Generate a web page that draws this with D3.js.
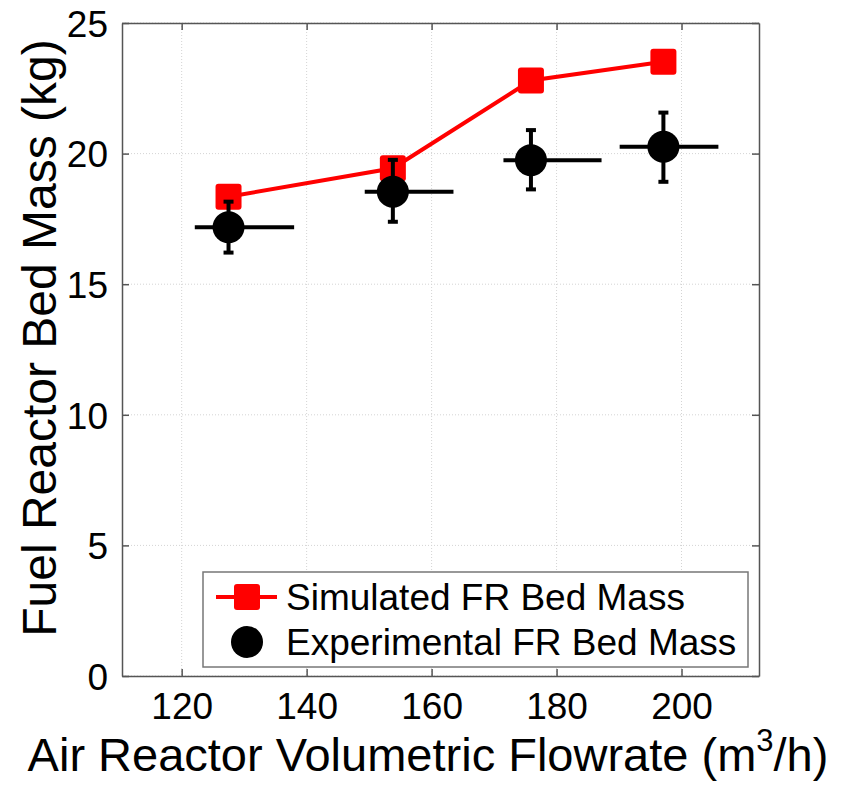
<!DOCTYPE html>
<html>
<head>
    <meta charset="utf-8">
    <title>Fuel Reactor Bed Mass</title>
    <style type="text/css">
    body { margin: 0; background: #fff; }
    text { font-family: "Liberation Sans", Arial, sans-serif; }
    </style>
</head>
<body>
  <script src="https://cdn.jsdelivr.net/npm/d3@7"></script>
  <script>

    // data
    var flowrate     = [127.5, 153.8, 175.9, 197.1];   // m3/h
    var simMass      = [18.35, 19.44, 22.8, 23.52];    // kg
    var expMass      = [17.18, 18.54, 19.75, 20.26];   // kg
    var expMassLow   = [16.21, 17.39, 18.63, 18.92];
    var expMassHigh  = [18.16, 19.76, 20.9, 21.57];
    var flowLow      = [122.1, 149.3, 171.5, 190.1];
    var flowHigh     = [138.0, 163.5, 187.2, 205.9];
    var xTicks = [120, 140, 160, 180, 200];
    var yTicks = [0, 5, 10, 15, 20, 25];
    var legendLabels = ["Simulated FR Bed Mass", "Experimental FR Bed Mass"];

    var W = 846, H = 785;
    var margin = {top: 23, right: 87, bottom: 109, left: 122},
        width  = W - margin.left - margin.right,
        height = H - margin.top - margin.bottom;

    var svg = d3.select("body")
      .append("svg")
      .attr("width", W)
      .attr("height", H);

    var chart = svg.append("g")
      .attr("transform", "translate(" + margin.left + "," + margin.top + ")");

    //scales
    var xScale = d3.scaleLinear().domain([110.45, 212.4]).range([0, width]);
    var yScale = d3.scaleLinear().domain([0, 25]).range([height, 0]);

    //dotted grid
    chart.append("g")
      .selectAll("line")
      .data(xTicks)
      .enter()
      .append("line")
      .attr("x1", function(d){ return xScale(d); })
      .attr("x2", function(d){ return xScale(d); })
      .attr("y1", 0)
      .attr("y2", height)
      .attr("stroke", "#d4d4d4")
      .attr("stroke-width", 1)
      .attr("stroke-dasharray", "1,2");

    chart.append("g")
      .selectAll("line")
      .data(yTicks)
      .enter()
      .append("line")
      .attr("x1", 0)
      .attr("x2", width)
      .attr("y1", function(d){ return yScale(d); })
      .attr("y2", function(d){ return yScale(d); })
      .attr("stroke", "#d4d4d4")
      .attr("stroke-width", 1)
      .attr("stroke-dasharray", "1,2");

    //axes, ticks pointing inwards on all four sides
    var axisColor = "#555";
    var bottomAxis = chart.append("g")
      .attr("transform", "translate(0," + height + ")")
      .call(d3.axisBottom(xScale).tickValues(xTicks).tickSizeInner(-7).tickSizeOuter(0).tickPadding(16));
    var topAxis = chart.append("g")
      .call(d3.axisTop(xScale).tickValues(xTicks).tickSizeInner(-7).tickSizeOuter(0).tickFormat(""));
    var leftAxis = chart.append("g")
      .call(d3.axisLeft(yScale).tickValues(yTicks).tickSizeInner(-7).tickSizeOuter(0).tickPadding(14));
    var rightAxis = chart.append("g")
      .attr("transform", "translate(" + width + ",0)")
      .call(d3.axisRight(yScale).tickValues(yTicks).tickSizeInner(-7).tickSizeOuter(0).tickFormat(""));

    [bottomAxis, topAxis, leftAxis, rightAxis].forEach(function(a){
      a.select(".domain").attr("stroke", axisColor).attr("stroke-width", 1.5);
      a.selectAll(".tick line").attr("stroke", axisColor).attr("stroke-width", 1.5);
      a.selectAll("text")
        .attr("fill", "#000")
        .style("font-family", "\"Liberation Sans\", Arial, sans-serif")
        .style("font-size", "37px");
    });
    bottomAxis.selectAll("text").attr("dy", "0.72em");
    leftAxis.selectAll("text").attr("dy", "0.36em");

    //simulated line + squares
    var line = d3.line()
      .x(function(d){ return xScale(d[0]); })
      .y(function(d){ return yScale(d[1]); });

    var simData = flowrate.map(function(f, i){ return [f, simMass[i]]; });

    chart.append("path")
      .datum(simData)
      .attr("d", line)
      .attr("fill", "none")
      .attr("stroke", "#ff0000")
      .attr("stroke-width", 4);

    var sq = 26;
    chart.append("g")
      .selectAll("rect")
      .data(simData)
      .enter()
      .append("rect")
      .attr("x", function(d){ return xScale(d[0]) - sq/2; })
      .attr("y", function(d){ return yScale(d[1]) - sq/2; })
      .attr("width", sq)
      .attr("height", sq)
      .attr("rx", 3)
      .attr("fill", "#ff0000");

    //experimental points with x/y error bars
    var expData = flowrate.map(function(f, i){
      return {x: f, y: expMass[i], y0: expMassLow[i], y1: expMassHigh[i], x0: flowLow[i], x1: flowHigh[i]};
    });

    var expG = chart.append("g")
      .selectAll("g")
      .data(expData)
      .enter()
      .append("g");

    expG.append("line")
      .attr("x1", function(d){ return xScale(d.x0); })
      .attr("x2", function(d){ return xScale(d.x1); })
      .attr("y1", function(d){ return yScale(d.y); })
      .attr("y2", function(d){ return yScale(d.y); })
      .attr("stroke", "#000")
      .attr("stroke-width", 4);

    expG.append("line")
      .attr("x1", function(d){ return xScale(d.x); })
      .attr("x2", function(d){ return xScale(d.x); })
      .attr("y1", function(d){ return yScale(d.y0); })
      .attr("y2", function(d){ return yScale(d.y1); })
      .attr("stroke", "#000")
      .attr("stroke-width", 4);

    ["y0", "y1"].forEach(function(k){
      expG.append("line")
        .attr("x1", function(d){ return xScale(d.x) - 5; })
        .attr("x2", function(d){ return xScale(d.x) + 5; })
        .attr("y1", function(d){ return yScale(d[k]); })
        .attr("y2", function(d){ return yScale(d[k]); })
        .attr("stroke", "#000")
        .attr("stroke-width", 4);
    });

    expG.append("circle")
      .attr("cx", function(d){ return xScale(d.x); })
      .attr("cy", function(d){ return yScale(d.y); })
      .attr("r", 16)
      .attr("fill", "#000");

    //legend
    var legend = svg.append("g")
      .attr("transform", "translate(203,572)");

    legend.append("rect")
      .attr("width", 545)
      .attr("height", 95)
      .attr("fill", "#fff")
      .attr("stroke", "#777")
      .attr("stroke-width", 1.5);

    legend.append("line")
      .attr("x1", 13).attr("x2", 74)
      .attr("y1", 25).attr("y2", 25)
      .attr("stroke", "#ff0000")
      .attr("stroke-width", 4);
    legend.append("rect")
      .attr("x", 44 - sq/2).attr("y", 25 - sq/2)
      .attr("width", sq).attr("height", sq)
      .attr("rx", 3)
      .attr("fill", "#ff0000");
    legend.append("circle")
      .attr("cx", 44).attr("cy", 70)
      .attr("r", 16)
      .attr("fill", "#000");

    legend.selectAll("text.lbl")
      .data(legendLabels)
      .enter()
      .append("text")
      .attr("class", "lbl")
      .attr("x", 83)
      .attr("y", function(d, i){ return 25 + i*45; })
      .attr("dy", "0.36em")
      .style("font-size", "37px")
      .text(function(d){ return d; });

    //axis titles
    var xTitle = svg.append("text")
      .attr("x", 428)
      .attr("y", 771)
      .attr("text-anchor", "middle")
      .style("font-size", "47px");
    xTitle.append("tspan").text("Air Reactor Volumetric Flowrate (m");
    xTitle.append("tspan").attr("dy", -20).style("font-size", "31px").text("3");
    xTitle.append("tspan").attr("dy", 20).text("/h)");

    svg.append("text")
      .attr("transform", "translate(56," + 338 + ") rotate(-90)")
      .attr("text-anchor", "middle")
      .style("font-size", "48px")
      .text("Fuel Reactor Bed Mass (kg)");

  </script>
</body>
</html>
